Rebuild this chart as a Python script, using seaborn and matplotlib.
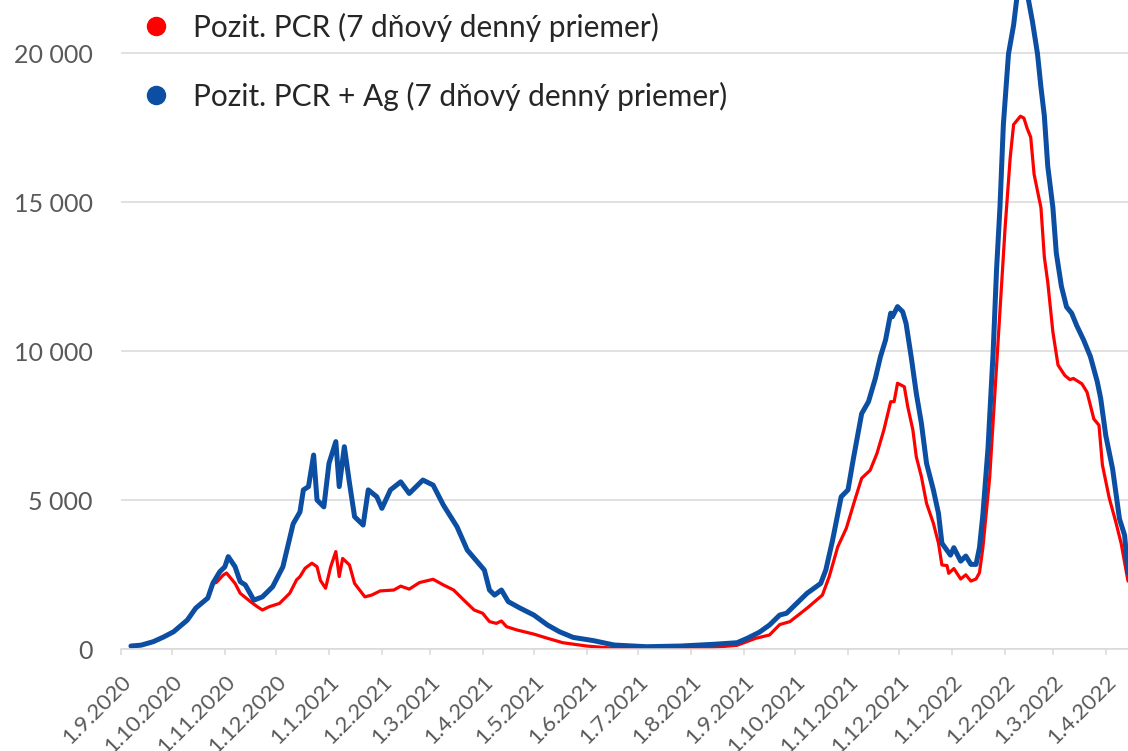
import pandas as pd
import seaborn as sns
import matplotlib.pyplot as plt
import matplotlib.dates as mdates
from matplotlib.lines import Line2D
from matplotlib.ticker import FuncFormatter

start = pd.Timestamp("2020-09-01")

# 7-day averages, x = days since 1.9.2020
pcr_days = [6, 12, 19, 25, 31, 39, 44, 51, 54, 56, 60, 62, 67, 70, 76, 80, 83, 87,
            93, 99, 103, 105, 108, 112, 115, 117, 120, 123, 126, 128, 130, 134, 137,
            143, 147, 152, 160, 164, 169, 175, 183, 189, 195, 201, 207, 212, 216,
            220, 223, 226, 232, 242, 250, 259, 273, 289, 308, 330, 347, 361, 372,
            380, 386, 392, 402, 411, 415, 420, 425, 430, 434, 439, 443, 447, 451,
            453, 455, 459, 461, 464, 466, 469, 472, 476, 479, 481, 484, 485, 488,
            492, 495, 498, 501, 503, 505, 509, 512, 515, 518, 521, 523, 527, 529,
            531, 533, 535, 538, 539, 541, 543, 546, 549, 553, 556, 558, 563, 566,
            570, 573, 575, 579, 583, 586, 590]
pcr_values = [100, 130, 240, 390, 570, 960, 1360, 1700, 2200, 2230, 2480, 2550, 2200,
              1870, 1590, 1420, 1310, 1420, 1530, 1870, 2320, 2430, 2710, 2880, 2760,
              2300, 2040, 2760, 3270, 2430, 3040, 2820, 2200, 1750, 1810, 1950, 1980,
              2110, 2010, 2230, 2340, 2150, 1980, 1640, 1310, 1200, 920, 860, 940, 750,
              640, 500, 360, 211, 100, 23, 20, 25, 57, 124, 360, 470, 820, 920, 1370,
              1810, 2430, 3430, 4050, 5000, 5730, 6000, 6570, 7350, 8300, 8300, 8920,
              8800, 8130, 7350, 6450, 5780, 4890, 4220, 3550, 2820, 2800, 2540, 2700,
              2350, 2490, 2280, 2350, 2560, 3400, 5770, 8560, 11340, 14130, 16490,
              17600, 17880, 17820, 17460, 17180, 15930, 15090, 14820, 13150, 12310,
              10640, 9530, 9180, 9040, 9080, 8900, 8620, 7720, 7510, 6180, 5070, 4230,
              3540, 2280]

ag_days = [6, 12, 19, 25, 31, 39, 44, 51, 54, 58, 61, 63, 67, 70, 73, 78, 83, 89, 95,
           101, 105, 107, 110, 113, 115, 119, 122, 126, 128, 131, 134, 137, 142, 145,
           150, 153, 158, 164, 169, 177, 183, 189, 197, 203, 210, 213, 216, 219, 223,
           227, 234, 242, 250, 257, 265, 277, 289, 308, 328, 347, 361, 367, 374, 380,
           386, 390, 402, 410, 413, 417, 422, 426, 429, 434, 438, 442, 445, 448, 451,
           452, 455, 458, 460, 463, 466, 469, 472, 476, 479, 481, 486, 488, 492, 495,
           498, 501, 503, 505, 508, 511, 513, 515, 517, 520, 523, 525, 528, 531, 534,
           537, 539, 541, 543, 546, 548, 551, 554, 557, 560, 564, 568, 572, 574, 577,
           581, 585, 588, 590]
ag_values = [100, 130, 245, 400, 580, 970, 1375, 1710, 2210, 2590, 2760, 3100, 2760,
             2260, 2150, 1640, 1750, 2090, 2760, 4200, 4600, 5340, 5450, 6510, 5000,
             4770, 6230, 6960, 5450, 6790, 5570, 4440, 4160, 5340, 5110, 4720, 5340,
             5610, 5220, 5670, 5500, 4830, 4100, 3320, 2850, 2650, 1980, 1810, 1980,
             1590, 1370, 1140, 805, 580, 390, 280, 134, 77, 100, 157, 211, 360, 560,
             805, 1140, 1200, 1870, 2200, 2650, 3660, 5110, 5340, 6340, 7900, 8300,
             9080, 9810, 10370, 11270, 11150, 11490, 11320, 10930, 9810, 8580, 7570,
             6230, 5340, 4550, 3550, 3150, 3400, 2950, 3120, 2840, 2840, 3400, 4510,
             6740, 9940, 12730, 14820, 17600, 19970, 20940, 21900, 22300, 22000, 21070,
             19970, 18860, 17890, 16200, 14820, 13290, 12170, 11480, 11270, 10850,
             10370, 9810, 8970, 8410, 7160, 6040, 4370, 3820, 2560]

labels = ["Pozit. PCR (7 dňový denný priemer)", "Pozit. PCR + Ag (7 dňový denný priemer)"]
colors = ["#ff0000", "#0b4ea2"]
y_ticks = [0, 5000, 10000, 15000, 20000]

pcr = pd.DataFrame({"date": start + pd.to_timedelta(pcr_days, unit="D"), "value": pcr_values})
ag = pd.DataFrame({"date": start + pd.to_timedelta(ag_days, unit="D"), "value": ag_values})

sns.set_theme(style="white")
plt.rcParams["font.family"] = ["Lato", "DejaVu Sans"]

fig = plt.figure(figsize=(11.28, 7.51), dpi=100)
ax = fig.add_axes([0.107, 0.1358, 0.893, 0.8642])

sns.lineplot(data=pcr, x="date", y="value", color=colors[0], lw=2.3, ax=ax)
sns.lineplot(data=ag, x="date", y="value", color=colors[1], lw=3.6, ax=ax)

ax.set_xlim(start, start + pd.Timedelta(days=590))
ax.set_ylim(0, 21780)
ax.set_xlabel("")
ax.set_ylabel("")

ax.set_yticks(y_ticks)
ax.yaxis.set_major_formatter(FuncFormatter(lambda v, p: f"{int(v):,}".replace(",", " ")))
ax.xaxis.set_major_locator(mdates.MonthLocator())

def date_label(v, p):
    d = mdates.num2date(v)
    return f"{d.day}.{d.month}.{d.year}"

ax.xaxis.set_major_formatter(FuncFormatter(date_label))

ax.set_axisbelow(True)
ax.yaxis.grid(True, color="#d9d9d9", lw=1.1)
ax.xaxis.grid(False)
for s in ["top", "right", "left"]:
    ax.spines[s].set_visible(False)
ax.spines["bottom"].set_color("#d9d9d9")
ax.spines["bottom"].set_linewidth(1.1)

ax.tick_params(axis="y", length=0, pad=20, labelsize=18, labelcolor="#595959")
ax.tick_params(axis="x", bottom=True, length=4, width=1.1, color="#d9d9d9",
               pad=12, labelsize=16, labelcolor="#595959")
for lab in ax.get_xticklabels():
    lab.set_rotation(45)
    lab.set_ha("right")
    lab.set_rotation_mode("anchor")

handles = [Line2D([], [], ls="", marker="o", markersize=13, color=c) for c in colors]
fig.legend(handles, labels, loc="upper left", bbox_to_anchor=(141 / 1128, 0.9835),
           frameon=False, fontsize=21.5, borderpad=0, borderaxespad=0,
           handlelength=1.0, handletextpad=0.74, labelspacing=1.34)

fig.savefig("out.png", dpi=100)
